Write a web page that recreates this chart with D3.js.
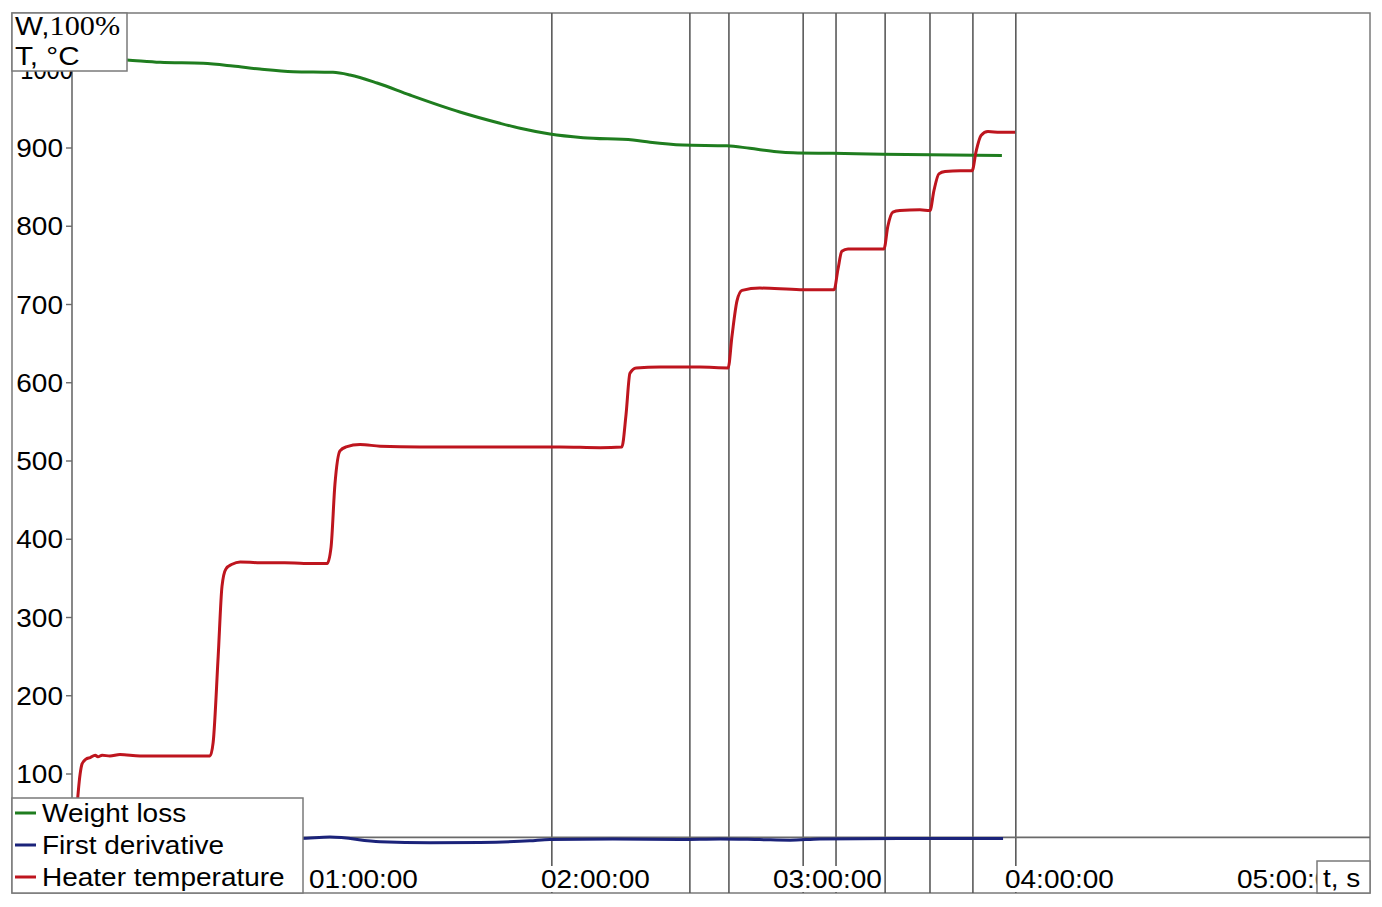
<!DOCTYPE html>
<html><head><meta charset="utf-8">
<script src="https://cdn.jsdelivr.net/npm/d3@7"></script>
<style>body{margin:0;background:#fff}svg{display:block}</style>
</head><body>
<svg id="c" width="1382" height="907"></svg>
<script>
// ---- data (time in minutes) ----
const tempTime  = [1.0,2.1,2.6,3.6,4.7,6.0,6.7,7.8,9.8,12.4,17.6,27.9,35.7,36.5,37.8,38.8,39.8,41.4,43.5,48.6,55.0,60.0,66.0,67.0,68.0,69.3,70.9,74.5,79.7,90.0,100.0,110.7,120.0,126.2,136.6,142.2,143.3,144.3,145.9,152.1,162.4,169.7,170.7,172.0,173.3,177.9,188.3,197.1,198.1,199.1,200.7,206.4,210.0,211.0,212.3,214.1,219.3,221.9,222.9,224.2,225.8,229.7,232.8,233.8,235.1,236.9,240.0,243.9];
const tempValue = [40,100,113,119,121,124,122,124,123,125,123,123,123,140,250,340,362,368,371,370,370,369,369,390,470,513,518,521,519,518,518,518,518,518,517,518,560,612,619,620,620,619,660,705,718,721,719,719,745,768,771,771,771,800,818,820,821,820,845,867,870,871,871,895,916,921,920,920];

const weightTime  = [0,14.2,22.8,33.9,41.6,48.6,57.2,67.5,71.9,78.9,87.4,100.3,110.7,115.9,123.6,132.2,145.1,149.5,158.0,169.4,175.3,182.3,186.5,196.8,209.7,240.5];
const weightValue = [1016,1012.5,1009.5,1008.2,1004.8,1000.9,997.5,996.7,993.3,983.1,967.7,946.0,931.6,925.2,917.9,913.2,910.2,907.3,903.8,902.9,899.6,895.3,894.0,893.2,892.0,890.5];

const derivTime  = [0,59.0,66.7,79.7,92.6,105.5,118.4,123.6,139.9,157.2,167.6,177.9,185.7,193.4,214.1,240.8];
const derivValue = [-0.015,-0.010,0.003,-0.044,-0.054,-0.050,-0.034,-0.020,-0.017,-0.020,-0.015,-0.022,-0.028,-0.015,-0.010,-0.010];

const eventTimes = [124.1,159.8,169.9,189.1,197.6,210.3,221.9,233.0,244.1];
const xTickValues = [60,120,180,240,300];
const yTickValues = [100,200,300,400,500,600,700,800,900,1000];
const legendLabels = ["Weight loss","First derivative","Heater temperature"];
const legendColors = ["#1f7d1f","#1b237a","#be151e"];

// ---- layout ----
const L = 72, R = 1370, T = 13, B = 893, OL = 12;
const svg = d3.select("#c");
const x = d3.scaleLinear().domain([0, 335.7]).range([L, R]);
const y = d3.scaleLinear().domain([0, 1000]).range([852.25, 69.75]);
const axisY = y(19);
const yD = d3.scaleLinear().domain([-1, 1]).range([axisY + 100, axisY - 100]);
const FONT = "'Liberation Sans', Arial, Helvetica, sans-serif";
const SX = 1.12;

function txt(g, px, py, s, anchor, size, sx) {
  return g.append("text").attr("transform", `translate(${px},${py}) scale(${sx || SX},1)`)
    .attr("text-anchor", anchor || "start").attr("font-family", FONT)
    .attr("font-size", size || 25).attr("fill", "#000").text(s);
}
const fmt = m => { const h = Math.floor(m/60), mm = Math.round(m%60); return String(h).padStart(2,"0")+":"+String(mm).padStart(2,"0")+":00"; };

svg.append("defs").append("clipPath").attr("id","plot").append("rect")
  .attr("x", L).attr("y", T).attr("width", R - L).attr("height", B - T);

// outer border
svg.append("rect").attr("x", OL).attr("y", T).attr("width", R - OL).attr("height", B - T)
  .attr("fill", "#fff").attr("stroke", "#7a7a7a").attr("stroke-width", 1.5);

// event lines
svg.append("g").selectAll("line").data(eventTimes).join("line")
  .attr("x1", d => x(d)).attr("x2", d => x(d)).attr("y1", T).attr("y2", B)
  .attr("stroke", "#5a5a5a").attr("stroke-width", 1.6);

// x axis line
svg.append("line").attr("x1", L).attr("x2", R).attr("y1", axisY).attr("y2", axisY)
  .attr("stroke", "#6a6a6a").attr("stroke-width", 1.6);

// y axis
const gy = svg.append("g");
gy.append("line").attr("x1", L).attr("x2", L).attr("y1", T).attr("y2", B)
  .attr("stroke", "#6a6a6a").attr("stroke-width", 1.6);
gy.selectAll("line.t").data(yTickValues).join("line").attr("class","t")
  .attr("x1", L - 6).attr("x2", L).attr("y1", d => y(d)).attr("y2", d => y(d))
  .attr("stroke", "#6a6a6a").attr("stroke-width", 1.4);
yTickValues.forEach(v => {
  if (v === 1000) txt(gy, 73, y(v) + 9, String(v), "end", 25, 0.95);
  else txt(gy, 63, y(v) + 9, String(v), "end", 25);
});

// x tick labels with white backgrounds
const gx = svg.append("g");
xTickValues.forEach(v => {
  gx.append("rect").attr("x", x(v) + 1).attr("y", 866).attr("width", 114).attr("height", 26).attr("fill", "#fff");
  txt(gx, x(v) + 5, 888, fmt(v), "start", 25);
});

// data lines
const gd = svg.append("g").attr("clip-path", "url(#plot)");
const line = (xs, ys, ysc) => d3.line().curve(d3.curveMonotoneX)
  .x((d, i) => x(xs[i])).y((d, i) => ysc(ys[i]))(xs);
gd.append("path").attr("d", line(derivTime, derivValue, yD)).attr("fill","none")
  .attr("stroke", legendColors[1]).attr("stroke-width", 3);
gd.append("path").attr("d", line(weightTime, weightValue, y)).attr("fill","none")
  .attr("stroke", legendColors[0]).attr("stroke-width", 3);
gd.append("path").attr("d", line(tempTime, tempValue, y)).attr("fill","none")
  .attr("stroke", legendColors[2]).attr("stroke-width", 3);

// y title box
const gt = svg.append("g");
gt.append("rect").attr("x", OL).attr("y", T).attr("width", 115).attr("height", 58)
  .attr("fill", "#fff").attr("stroke", "#7a7a7a").attr("stroke-width", 1.5);
const t1 = gt.append("text").attr("transform", `translate(15,35) scale(${SX},1)`)
  .attr("font-size", 26.5).attr("fill", "#000");
t1.append("tspan").attr("font-family", FONT).text("W,");
t1.append("tspan").attr("font-family", "'Liberation Serif', 'Times New Roman', serif").attr("font-size", 27).text("100%");
txt(gt, 15, 65, "T, °C", "start", 26.5);

// x unit box
const gu = svg.append("g");
gu.append("rect").attr("x", 1317).attr("y", 861).attr("width", R - 1317).attr("height", B - 861)
  .attr("fill", "#fff").attr("stroke", "#7a7a7a").attr("stroke-width", 1.5);
txt(gu, 1323, 887, "t, s", "start", 25);

// legend
const gl = svg.append("g");
gl.append("rect").attr("x", OL).attr("y", 798).attr("width", 291).attr("height", B - 798)
  .attr("fill", "#fff").attr("stroke", "#7a7a7a").attr("stroke-width", 1.5);
legendLabels.forEach((s, i) => {
  const cy = 813 + i * 32;
  gl.append("line").attr("x1", 15).attr("x2", 36).attr("y1", cy).attr("y2", cy)
    .attr("stroke", legendColors[i]).attr("stroke-width", 3);
  txt(gl, 42, cy + 9, s, "start", 25);
});
</script>
</body></html>
